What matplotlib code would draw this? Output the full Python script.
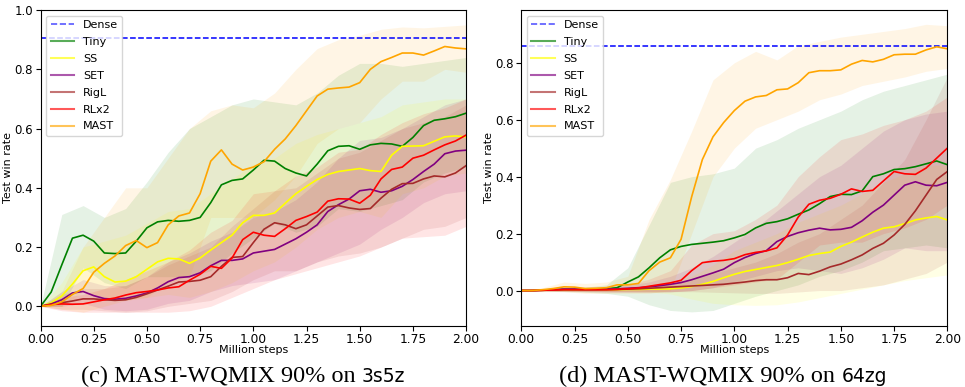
import numpy as np
import matplotlib
matplotlib.use("Agg")
import matplotlib.pyplot as plt
from matplotlib.lines import Line2D

# ---------------- data ----------------
methods = ["Tiny", "SS", "SET", "RigL", "RLx2", "MAST"]
colors = {"Tiny": "green", "SS": "yellow", "SET": "purple",
          "RigL": "brown", "RLx2": "red", "MAST": "orange"}

x_mean = np.linspace(0.0, 2.0, 41)   # every 0.05 M steps
x_band = np.linspace(0.0, 2.0, 21)   # every 0.1 M steps

dense_3s5z = 0.906
dense_64zg = 0.859

# ---- 3s5z means ----
tiny_3s5z = [0.0, 0.048, 0.14, 0.23, 0.24, 0.22, 0.18, 0.178, 0.18, 0.22, 0.265,
             0.285, 0.29, 0.287, 0.29, 0.30, 0.35, 0.41, 0.425, 0.43, 0.46,
             0.493, 0.49, 0.465, 0.45, 0.44, 0.48, 0.525, 0.54, 0.542, 0.53,
             0.545, 0.55, 0.548, 0.54, 0.57, 0.61, 0.628, 0.633, 0.64, 0.652]
ss_3s5z = [0.0, 0.012, 0.035, 0.075, 0.12, 0.133, 0.10, 0.082, 0.085, 0.10, 0.125,
           0.15, 0.162, 0.16, 0.145, 0.163, 0.19, 0.215, 0.24, 0.282, 0.307,
           0.307, 0.315, 0.348, 0.38, 0.405, 0.428, 0.445, 0.455, 0.46, 0.465,
           0.458, 0.455, 0.51, 0.54, 0.541, 0.542, 0.557, 0.572, 0.575, 0.572]
set_3s5z = [0.0, 0.008, 0.022, 0.045, 0.05, 0.036, 0.026, 0.024, 0.027, 0.035, 0.045,
            0.062, 0.083, 0.097, 0.10, 0.113, 0.137, 0.155, 0.155, 0.16, 0.18,
            0.186, 0.192, 0.21, 0.228, 0.25, 0.275, 0.32, 0.343, 0.362, 0.39,
            0.395, 0.385, 0.39, 0.405, 0.428, 0.455, 0.48, 0.515, 0.524, 0.527]
rigl_3s5z = [0.0, 0.006, 0.012, 0.018, 0.025, 0.025, 0.022, 0.02, 0.022, 0.03, 0.042,
             0.055, 0.068, 0.082, 0.084, 0.088, 0.10, 0.135, 0.165, 0.168, 0.215,
             0.26, 0.282, 0.275, 0.262, 0.275, 0.305, 0.335, 0.34, 0.332, 0.327,
             0.33, 0.365, 0.395, 0.414, 0.415, 0.43, 0.44, 0.437, 0.45, 0.475]
rlx2_3s5z = [0.0, 0.006, 0.008, 0.007, 0.008, 0.015, 0.022, 0.028, 0.038, 0.046, 0.05,
             0.055, 0.062, 0.066, 0.088, 0.108, 0.135, 0.128, 0.163, 0.225, 0.25,
             0.24, 0.236, 0.262, 0.29, 0.303, 0.318, 0.355, 0.363, 0.362, 0.348,
             0.375, 0.43, 0.462, 0.47, 0.50, 0.51, 0.528, 0.545, 0.558, 0.578]
mast_3s5z = [0.0, 0.003, 0.015, 0.04, 0.06, 0.115, 0.145, 0.17, 0.205, 0.222, 0.198,
             0.215, 0.275, 0.305, 0.315, 0.38, 0.49, 0.528, 0.48, 0.46, 0.47,
             0.488, 0.53, 0.565, 0.61, 0.66, 0.71, 0.733, 0.737, 0.74, 0.755,
             0.80, 0.826, 0.84, 0.855, 0.855, 0.848, 0.862, 0.877, 0.872, 0.869]

# ---- 3s5z bands (low / high) ----
tiny_3s5z_lo = [0, 0.0, 0.13, 0.08, 0.06, 0.10, 0.10, 0.10, 0.12, 0.18, 0.23,
                0.28, 0.25, 0.27, 0.33, 0.32, 0.34, 0.36, 0.42, 0.45, 0.47]
tiny_3s5z_hi = [0, 0.31, 0.34, 0.30, 0.33, 0.42, 0.52, 0.60, 0.64, 0.68, 0.70,
                0.69, 0.68, 0.72, 0.78, 0.82, 0.82, 0.81, 0.82, 0.83, 0.84]
ss_3s5z_lo = [0, 0.0, 0.05, 0.03, 0.02, 0.03, 0.04, 0.03, 0.05, 0.08, 0.12,
              0.15, 0.20, 0.26, 0.30, 0.32, 0.30, 0.38, 0.40, 0.44, 0.45]
ss_3s5z_hi = [0, 0.08, 0.20, 0.22, 0.24, 0.28, 0.32, 0.33, 0.38, 0.43, 0.48,
              0.50, 0.55, 0.58, 0.60, 0.62, 0.64, 0.68, 0.69, 0.70, 0.70]
set_3s5z_lo = [0, 0.0, 0.01, -0.01, -0.015, -0.01, 0.01, 0.02, 0.05, 0.07, 0.08,
               0.09, 0.12, 0.15, 0.18, 0.21, 0.26, 0.30, 0.35, 0.38, 0.39]
set_3s5z_hi = [0, 0.05, 0.09, 0.07, 0.07, 0.10, 0.15, 0.18, 0.22, 0.25, 0.30,
               0.32, 0.36, 0.42, 0.50, 0.56, 0.57, 0.60, 0.64, 0.68, 0.70]
rigl_3s5z_lo = [0, -0.01, -0.01, -0.015, -0.02, -0.015, 0.0, 0.01, 0.02, 0.05, 0.09,
                0.12, 0.12, 0.15, 0.17, 0.18, 0.20, 0.23, 0.26, 0.27, 0.30]
rigl_3s5z_hi = [0, 0.04, 0.06, 0.06, 0.07, 0.10, 0.14, 0.17, 0.20, 0.27, 0.33,
                0.39, 0.40, 0.45, 0.50, 0.52, 0.56, 0.60, 0.62, 0.64, 0.68]
rlx2_3s5z_lo = [0, -0.015, -0.02, -0.02, -0.02, -0.02, -0.02, -0.015, 0.0, 0.03, 0.06,
                0.09, 0.11, 0.13, 0.15, 0.17, 0.20, 0.23, 0.235, 0.24, 0.27]
rlx2_3s5z_hi = [0, 0.03, 0.04, 0.06, 0.09, 0.12, 0.15, 0.19, 0.25, 0.29, 0.38,
                0.39, 0.44, 0.47, 0.52, 0.53, 0.58, 0.62, 0.65, 0.67, 0.70]
mast_3s5z_lo = [0, -0.01, -0.02, 0.0, 0.02, 0.03, 0.08, 0.10, 0.30, 0.30, 0.30,
                0.36, 0.44, 0.55, 0.60, 0.62, 0.70, 0.76, 0.76, 0.80, 0.79]
mast_3s5z_hi = [0, 0.05, 0.20, 0.30, 0.40, 0.40, 0.50, 0.60, 0.66, 0.68, 0.67,
                0.72, 0.80, 0.87, 0.90, 0.915, 0.935, 0.943, 0.94, 0.945, 0.95]

# ---- 64zg means ----
tiny_64zg = [0.0, 0.0, 0.002, 0.003, 0.004, 0.004, 0.004, 0.005, 0.006, 0.01, 0.03,
             0.048, 0.08, 0.115, 0.143, 0.155, 0.162, 0.166, 0.17, 0.175, 0.185,
             0.197, 0.22, 0.236, 0.242, 0.252, 0.268, 0.283, 0.305, 0.33, 0.338,
             0.337, 0.35, 0.40, 0.41, 0.425, 0.428, 0.435, 0.445, 0.455, 0.442]
ss_64zg = [0.0, 0.0, 0.001, 0.002, 0.003, 0.003, 0.003, 0.003, 0.003, 0.003, 0.004,
           0.004, 0.005, 0.005, 0.006, 0.009, 0.014, 0.022, 0.032, 0.045, 0.057,
           0.067, 0.074, 0.081, 0.088, 0.098, 0.11, 0.123, 0.13, 0.135, 0.155,
           0.17, 0.188, 0.205, 0.219, 0.224, 0.235, 0.248, 0.255, 0.26, 0.248]
set_64zg = [0.0, 0.0, 0.001, 0.003, 0.005, 0.005, 0.004, 0.004, 0.005, 0.006, 0.008,
            0.01, 0.013, 0.017, 0.022, 0.028, 0.038, 0.05, 0.062, 0.075, 0.098,
            0.116, 0.13, 0.14, 0.172, 0.19, 0.203, 0.212, 0.219, 0.213, 0.215,
            0.222, 0.245, 0.275, 0.30, 0.335, 0.37, 0.382, 0.37, 0.368, 0.38]
rigl_64zg = [0.0, 0.0, 0.001, 0.002, 0.003, 0.003, 0.003, 0.003, 0.003, 0.004, 0.005,
             0.006, 0.008, 0.01, 0.012, 0.014, 0.016, 0.018, 0.02, 0.022, 0.026,
             0.03, 0.035, 0.038, 0.038, 0.045, 0.06, 0.056, 0.068, 0.083, 0.093,
             0.108, 0.125, 0.148, 0.166, 0.195, 0.232, 0.28, 0.335, 0.39, 0.418]
rlx2_64zg = [0.0, 0.0, 0.001, 0.002, 0.003, 0.003, 0.003, 0.003, 0.003, 0.004, 0.006,
             0.009, 0.015, 0.021, 0.027, 0.036, 0.07, 0.098, 0.103, 0.106, 0.112,
             0.126, 0.134, 0.139, 0.15, 0.195, 0.258, 0.303, 0.317, 0.324, 0.338,
             0.357, 0.348, 0.352, 0.385, 0.418, 0.41, 0.408, 0.43, 0.465, 0.50]
mast_64zg = [0.0, 0.0, 0.003, 0.007, 0.013, 0.012, 0.007, 0.008, 0.01, 0.02, 0.02,
             0.025, 0.07, 0.10, 0.115, 0.18, 0.33, 0.46, 0.54, 0.59, 0.632,
             0.665, 0.68, 0.685, 0.705, 0.708, 0.73, 0.765, 0.772, 0.772, 0.775,
             0.795, 0.808, 0.803, 0.812, 0.828, 0.83, 0.83, 0.845, 0.856, 0.849]

# ---- 64zg bands (low / high) ----
tiny_64zg_lo = [0, -0.002, -0.004, -0.006, -0.01, -0.02, -0.05, -0.07, -0.075, -0.07, -0.045,
                -0.02, 0.0, 0.02, 0.05, 0.07, 0.10, 0.14, 0.15, 0.16, 0.15]
tiny_64zg_hi = [0, 0.005, 0.01, 0.012, 0.02, 0.08, 0.23, 0.38, 0.40, 0.41, 0.43,
                0.50, 0.53, 0.57, 0.60, 0.63, 0.67, 0.70, 0.72, 0.74, 0.76]
ss_64zg_lo = [0, -0.001, -0.002, -0.002, -0.002, -0.003, -0.005, -0.012, -0.03, -0.045, -0.05,
              -0.052, -0.05, -0.04, -0.025, -0.01, 0.005, 0.02, 0.035, 0.045, 0.055]
ss_64zg_hi = [0, 0.003, 0.008, 0.008, 0.008, 0.01, 0.015, 0.025, 0.05, 0.09, 0.14,
              0.17, 0.20, 0.24, 0.27, 0.30, 0.34, 0.38, 0.41, 0.44, 0.44]
set_64zg_lo = [0, -0.002, -0.002, -0.004, -0.005, -0.005, -0.005, -0.004, 0.0, 0.01, 0.03,
               0.05, 0.07, 0.08, 0.07, 0.06, 0.08, 0.11, 0.15, 0.14, 0.14]
set_64zg_hi = [0, 0.004, 0.012, 0.012, 0.015, 0.02, 0.03, 0.05, 0.08, 0.12, 0.17,
               0.22, 0.28, 0.34, 0.40, 0.44, 0.50, 0.56, 0.60, 0.62, 0.63]
rigl_64zg_lo = [0, -0.001, -0.002, -0.003, -0.004, -0.004, -0.004, -0.004, -0.004, -0.006, -0.008,
                -0.01, -0.01, -0.005, 0.0, 0.0, 0.01, 0.02, 0.04, 0.06, 0.10]
rigl_64zg_hi = [0, 0.003, 0.008, 0.008, 0.01, 0.012, 0.018, 0.028, 0.04, 0.06, 0.08,
                0.10, 0.13, 0.17, 0.20, 0.25, 0.30, 0.38, 0.46, 0.60, 0.75]
rlx2_64zg_lo = [0, -0.002, -0.003, -0.004, -0.005, -0.006, -0.006, -0.005, 0.0, 0.01, 0.02,
                0.03, 0.04, 0.10, 0.16, 0.17, 0.17, 0.20, 0.22, 0.25, 0.30]
rlx2_64zg_hi = [0, 0.004, 0.01, 0.01, 0.012, 0.02, 0.04, 0.07, 0.16, 0.20, 0.21,
                0.25, 0.30, 0.40, 0.47, 0.53, 0.55, 0.58, 0.60, 0.63, 0.68]
mast_64zg_lo = [0, -0.004, -0.004, -0.01, -0.01, -0.01, -0.01, 0.0, 0.20, 0.40, 0.50,
                0.57, 0.60, 0.63, 0.67, 0.69, 0.72, 0.735, 0.75, 0.77, 0.78]
mast_64zg_hi = [0, 0.01, 0.03, 0.025, 0.03, 0.05, 0.25, 0.39, 0.56, 0.74, 0.80,
                0.84, 0.81, 0.86, 0.875, 0.89, 0.90, 0.91, 0.92, 0.935, 0.93]

xticks = [0.00, 0.25, 0.50, 0.75, 1.00, 1.25, 1.50, 1.75, 2.00]
yticks_3s5z = [0.0, 0.2, 0.4, 0.6, 0.8, 1.0]
yticks_64zg = [0.0, 0.2, 0.4, 0.6, 0.8]

panels = [
    dict(means={"Tiny": tiny_3s5z, "SS": ss_3s5z, "SET": set_3s5z, "RigL": rigl_3s5z,
                "RLx2": rlx2_3s5z, "MAST": mast_3s5z},
         lo={"Tiny": tiny_3s5z_lo, "SS": ss_3s5z_lo, "SET": set_3s5z_lo, "RigL": rigl_3s5z_lo,
             "RLx2": rlx2_3s5z_lo, "MAST": mast_3s5z_lo},
         hi={"Tiny": tiny_3s5z_hi, "SS": ss_3s5z_hi, "SET": set_3s5z_hi, "RigL": rigl_3s5z_hi,
             "RLx2": rlx2_3s5z_hi, "MAST": mast_3s5z_hi},
         dense=dense_3s5z, yticks=yticks_3s5z, ylim=(-0.066, 1.0),
         rect=[0.042, 0.158, 0.441, 0.816],
         cap_main="(c) MAST-WQMIX 90% on ", cap_env="3s5z", cap_x=243),
    dict(means={"Tiny": tiny_64zg, "SS": ss_64zg, "SET": set_64zg, "RigL": rigl_64zg,
                "RLx2": rlx2_64zg, "MAST": mast_64zg},
         lo={"Tiny": tiny_64zg_lo, "SS": ss_64zg_lo, "SET": set_64zg_lo, "RigL": rigl_64zg_lo,
             "RLx2": rlx2_64zg_lo, "MAST": mast_64zg_lo},
         hi={"Tiny": tiny_64zg_hi, "SS": ss_64zg_hi, "SET": set_64zg_hi, "RigL": rigl_64zg_hi,
             "RLx2": rlx2_64zg_hi, "MAST": mast_64zg_hi},
         dense=dense_64zg, yticks=yticks_64zg, ylim=(-0.124, 0.985),
         rect=[0.5402, 0.158, 0.4415, 0.816],
         cap_main="(d) MAST-WQMIX 90% on ", cap_env="64zg", cap_x=723),
]

# ---------------- figure ----------------
W, H = 965, 387
fig = plt.figure(figsize=(W / 100, H / 100), dpi=100)

for p in panels:
    ax = fig.add_axes(p["rect"])
    for m in methods:
        ax.fill_between(x_band, p["lo"][m], p["hi"][m], color=colors[m], alpha=0.1, lw=0)
    ax.axhline(p["dense"], color="blue", ls="--", lw=1.1)
    for m in methods:
        ax.plot(x_mean, p["means"][m], color=colors[m], lw=1.2)
    ax.set_xlim(0, 2.0)
    ax.set_ylim(*p["ylim"])
    ax.set_xticks(xticks)
    ax.set_xticklabels([f"{t:.2f}" for t in xticks])
    ax.set_yticks(p["yticks"])
    ax.set_yticklabels([f"{t:.1f}" for t in p["yticks"]])
    ax.tick_params(axis="x", labelsize=8.8, length=3.5, pad=1.5)
    ax.tick_params(axis="y", labelsize=8.5, length=3.5, pad=2)
    ax.set_xlabel("Million steps", fontsize=8)
    ax.xaxis.set_label_coords(0.5, -0.062)
    ax.set_ylabel("Test win rate", fontsize=8)
    ax.yaxis.set_label_coords(-0.064, 0.5)
    handles = [Line2D([], [], color="blue", ls="--", lw=1.2, alpha=0.65)]
    handles += [Line2D([], [], color=colors[m], lw=1.5, alpha=0.65) for m in methods]
    ax.legend(handles, ["Dense"] + methods, loc="upper left", fontsize=8,
              labelspacing=0.62, borderpad=0.4, handlelength=2.1)

# captions: serif main text + sans environment name
fig.canvas.draw()
renderer = fig.canvas.get_renderer()
cap_y = 1 - 382 / H
for p in panels:
    t1 = fig.text(0, cap_y, p["cap_main"], fontsize=17.5, family="Liberation Serif",
                  ha="left", va="baseline")
    t2 = fig.text(0, cap_y, p["cap_env"], fontsize=13.5, family="DejaVu Sans",
                  ha="left", va="baseline")
    w1 = t1.get_window_extent(renderer).width
    w2 = t2.get_window_extent(renderer).width
    left = p["cap_x"] - (w1 + w2) / 2
    t1.set_x(left / W)
    t2.set_x((left + w1) / W)

fig.savefig("out.png", dpi=100)
